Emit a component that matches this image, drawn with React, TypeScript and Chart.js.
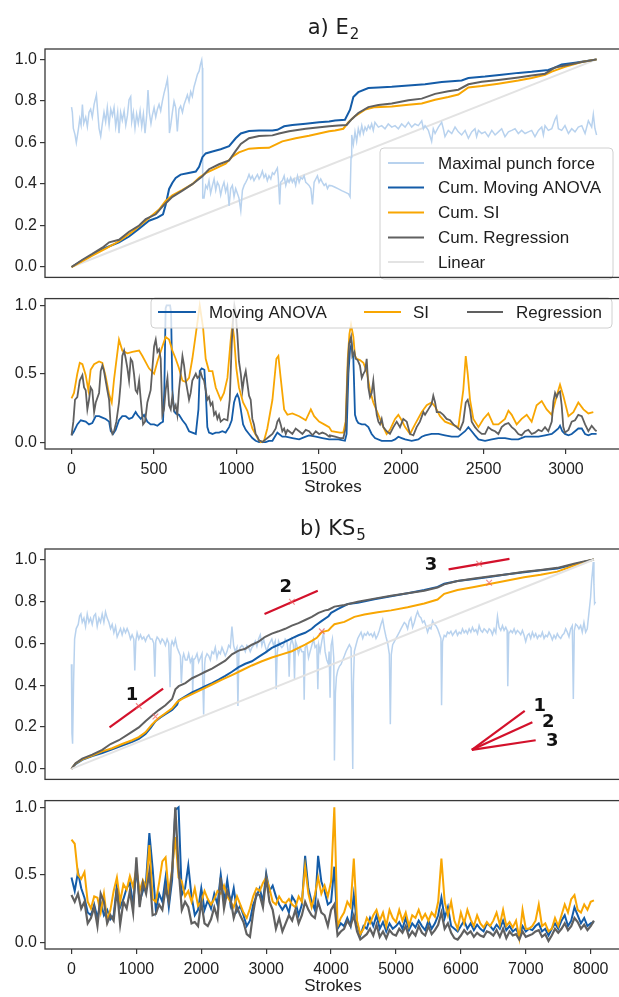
import React, { useEffect, useRef } from "react";
import { Chart, registerables } from "chart.js";

Chart.register(...registerables);

type Pt = [number, number];

// ================= shared ticks =================
const Y_TICKS_TOP = [0, 0.2, 0.4, 0.6, 0.8, 1.0];
const Y_TICKS_BOTTOM = [0, 0.5, 1.0];
const A_X_TICKS = [0, 500, 1000, 1500, 2000, 2500, 3000];
const B_X_TICKS = [0, 1000, 2000, 3000, 4000, 5000, 6000, 7000, 8000];
const A_X_RANGE = [-161, 3334];
const B_X_RANGE = [-408, 8467];

const TITLE_A = ["a) E", "2"];
const TITLE_B = ["b) KS", "5"];
const X_TITLE = "Strokes";
const A_TOP_LEGEND = ["Maximal punch force", "Cum. Moving ANOVA", "Cum. SI", "Cum. Regression", "Linear"];
const A_BOTTOM_LEGEND = ["Moving ANOVA", "SI", "Regression"];

// ================= panel a) top =================
const A_FORCE: Pt[] = [
  [0,0.77],[5,0.745],[11,0.668],[21,0.638],[29,0.599],[41,0.661],[50,0.714],[58,0.683],[66,0.783],[74,0.691],[86,0.722],[96,0.676],
  [106,0.745],[116,0.76],[126,0.722],[137,0.783],[151,0.829],[159,0.745],[167,0.668],[177,0.63],[187,0.691],[197,0.745],[207,0.699],
  [217,0.768],[228,0.683],[238,0.76],[248,0.729],[258,0.768],[268,0.676],[280,0.745],[288,0.645],[298,0.745],[308,0.706],[319,0.752],
  [329,0.683],[339,0.729],[349,0.806],[359,0.821],[365,0.699],[375,0.745],[385,0.668],[395,0.737],[405,0.691],[416,0.752],[426,0.676],
  [436,0.737],[446,0.645],[456,0.729],[464,0.852],[472,0.745],[482,0.691],[490,0.729],[501,0.768],[511,0.722],[521,0.76],[531,0.783],
  [541,0.752],[551,0.798],[561,0.836],[571,0.867],[582,0.905],[588,0.836],[594,0.645],[602,0.683],[612,0.745],[622,0.798],[632,0.768],
  [642,0.653],[652,0.76],[662,0.775],[673,0.745],[683,0.783],[693,0.806],[703,0.829],[713,0.798],[723,0.844],[733,0.821],[743,0.867],
  [754,0.898],[764,0.928],[774,0.943],[782,0.974],[790,0.997],[794,0.959],[796,0.332],[804,0.332],[814,0.393],[824,0.378],[834,0.416],
  [844,0.355],[855,0.393],[865,0.424],[875,0.37],[885,0.408],[895,0.393],[905,0.347],[915,0.385],[925,0.408],[935,0.362],[946,0.393],
  [956,0.294],[966,0.378],[976,0.393],[986,0.339],[996,0.378],[1006,0.355],[1016,0.332],[1027,0.271],[1037,0.37],[1047,0.393],[1057,0.408],
  [1067,0.424],[1077,0.446],[1087,0.424],[1097,0.439],[1107,0.416],[1117,0.431],[1128,0.446],[1138,0.424],[1148,0.439],[1158,0.462],
  [1168,0.431],[1178,0.446],[1188,0.416],[1198,0.439],[1209,0.424],[1219,0.454],[1229,0.446],[1239,0.462],[1249,0.477],[1255,0.424],
  [1263,0.301],[1269,0.408],[1279,0.416],[1290,0.439],[1300,0.393],[1310,0.424],[1320,0.408],[1330,0.431],[1340,0.408],[1350,0.424],
  [1360,0.393],[1371,0.439],[1381,0.408],[1391,0.431],[1401,0.424],[1411,0.439],[1421,0.408],[1431,0.401],[1441,0.393],[1452,0.378],
  [1462,0.301],[1472,0.408],[1482,0.424],[1492,0.439],[1502,0.408],[1512,0.424],[1522,0.408],[1533,0.393],[1543,0.401],[1553,0.378],
  [1563,0.393],[1579,0.391],[1599,0.384],[1619,0.376],[1639,0.368],[1659,0.361],[1680,0.353],[1690,0.338],[1696,0.528],[1700,0.636],
  [1710,0.59],[1720,0.651],[1730,0.605],[1740,0.666],[1750,0.636],[1761,0.681],[1771,0.643],[1781,0.674],[1791,0.658],[1801,0.681],
  [1811,0.666],[1821,0.689],[1831,0.658],[1841,0.697],[1862,0.674],[1882,0.681],[1902,0.666],[1922,0.689],[1943,0.674],[1963,0.681],
  [1983,0.666],[2003,0.689],[2024,0.674],[2044,0.697],[2064,0.674],[2084,0.689],[2104,0.681],[2125,0.704],[2135,0.666],[2145,0.681],
  [2165,0.658],[2185,0.605],[2195,0.666],[2206,0.643],[2226,0.674],[2246,0.697],[2256,0.666],[2266,0.628],[2286,0.658],[2307,0.643],
  [2327,0.674],[2347,0.651],[2367,0.636],[2388,0.658],[2408,0.62],[2428,0.651],[2448,0.666],[2458,0.628],[2469,0.658],[2489,0.643],
  [2509,0.651],[2529,0.628],[2550,0.658],[2570,0.636],[2590,0.651],[2610,0.666],[2630,0.628],[2651,0.651],[2671,0.658],[2691,0.666],
  [2711,0.643],[2731,0.658],[2752,0.643],[2772,0.651],[2792,0.658],[2812,0.628],[2833,0.658],[2853,0.674],[2863,0.636],[2873,0.681],
  [2893,0.658],[2914,0.666],[2934,0.712],[2944,0.727],[2954,0.666],[2974,0.658],[2994,0.681],[3015,0.643],[3035,0.666],[3055,0.651],
  [3075,0.674],[3096,0.681],[3116,0.643],[3136,0.704],[3156,0.674],[3166,0.735],[3176,0.666],[3186,0.636]
];
const A_CUM_ANOVA: Pt[] = [
  [0,0],[66,0.032],[126,0.058],[207,0.093],[288,0.119],[349,0.147],[410,0.185],[470,0.223],[521,0.238],[555,0.254],[571,0.299],
  [592,0.376],[612,0.406],[632,0.429],[662,0.445],[703,0.452],[754,0.46],[774,0.483],[794,0.529],[814,0.547],[855,0.556],[905,0.567],
  [956,0.582],[996,0.62],[1027,0.643],[1077,0.655],[1138,0.657],[1219,0.657],[1249,0.661],[1290,0.678],[1340,0.684],[1421,0.69],
  [1502,0.697],[1563,0.701],[1599,0.706],[1659,0.709],[1690,0.758],[1710,0.819],[1740,0.842],[1801,0.862],[1862,0.865],[1943,0.868],
  [2044,0.874],[2145,0.88],[2246,0.891],[2367,0.898],[2408,0.91],[2509,0.917],[2610,0.926],[2711,0.935],[2792,0.94],[2893,0.949],
  [2934,0.961],[2974,0.975],[3055,0.984],[3156,0.996],[3186,1.0]
];
const A_CUM_SI: Pt[] = [
  [0,0],[66,0.028],[126,0.055],[207,0.089],[288,0.124],[369,0.17],[450,0.223],[531,0.277],[571,0.318],[612,0.345],[673,0.371],
  [733,0.399],[774,0.43],[814,0.452],[875,0.475],[935,0.498],[976,0.532],[1016,0.552],[1077,0.57],[1138,0.573],[1198,0.574],
  [1219,0.582],[1279,0.605],[1360,0.62],[1441,0.632],[1563,0.654],[1599,0.658],[1649,0.666],[1680,0.697],[1720,0.727],[1781,0.758],
  [1841,0.77],[1943,0.773],[2044,0.781],[2125,0.788],[2206,0.806],[2286,0.819],[2347,0.831],[2408,0.865],[2489,0.872],[2590,0.883],
  [2711,0.898],[2792,0.91],[2873,0.926],[2914,0.941],[2994,0.964],[3096,0.987],[3186,1.0]
];
const A_CUM_REG: Pt[] = [
  [0,0],[66,0.035],[126,0.063],[187,0.093],[228,0.119],[288,0.131],[349,0.17],[410,0.2],[450,0.231],[511,0.254],[561,0.299],
  [612,0.338],[673,0.368],[733,0.399],[794,0.437],[834,0.471],[895,0.495],[956,0.513],[996,0.559],[1027,0.593],[1077,0.62],
  [1138,0.631],[1219,0.634],[1259,0.643],[1320,0.654],[1421,0.666],[1563,0.678],[1619,0.681],[1669,0.684],[1700,0.712],[1740,0.742],
  [1801,0.77],[1862,0.78],[1943,0.788],[2044,0.803],[2125,0.811],[2206,0.834],[2286,0.846],[2347,0.854],[2408,0.88],[2489,0.892],
  [2590,0.901],[2711,0.913],[2792,0.922],[2873,0.931],[2934,0.961],[2994,0.971],[3096,0.987],[3186,1.0]
];
const A_LINEAR: Pt[] = [[0,0],[3186,1]];

// ================= panel a) bottom =================
const A_IND_ANOVA: Pt[] = [
  [0,0.05],[15,0.08],[35,0.13],[56,0.16],[86,0.15],[106,0.13],[126,0.14],[147,0.19],[167,0.19],[187,0.18],[207,0.17],[228,0.15],
  [238,0.08],[252,0.06],[268,0.09],[288,0.16],[308,0.19],[329,0.19],[349,0.17],[369,0.18],[389,0.22],[399,0.2],[420,0.17],[440,0.2],
  [460,0.15],[480,0.13],[501,0.13],[521,0.12],[541,0.14],[555,0.15],[563,0.38],[571,0.98],[577,1.0],[598,1.0],[604,0.95],[612,0.38],
  [622,0.23],[632,0.21],[652,0.2],[673,0.16],[693,0.13],[713,0.08],[733,0.07],[754,0.06],[770,0.24],[778,0.52],[790,0.54],[806,0.53],
  [814,0.38],[824,0.11],[834,0.07],[855,0.06],[875,0.07],[895,0.07],[915,0.08],[935,0.07],[956,0.11],[972,0.16],[986,0.29],[996,0.33],
  [1006,0.35],[1016,0.32],[1027,0.24],[1041,0.13],[1057,0.09],[1077,0.06],[1097,0.03],[1117,0.01],[1138,0],[1158,0],[1178,0],
  [1198,0.01],[1219,0.01],[1239,0.05],[1249,0.07],[1259,0.06],[1279,0.04],[1300,0.04],[1340,0.03],[1381,0.02],[1421,0.04],[1441,0.05],
  [1482,0.04],[1522,0.03],[1563,0.02],[1578,0.02],[1619,0.02],[1659,0.01],[1669,0.06],[1680,0.5],[1690,0.68],[1700,0.72],[1710,0.61],
  [1720,0.2],[1730,0.16],[1740,0.14],[1761,0.13],[1781,0.13],[1801,0.11],[1821,0.06],[1841,0.03],[1882,0.01],[1922,0.01],[1943,0.01],
  [1963,0.02],[1983,0.04],[2003,0.03],[2024,0.02],[2064,0.01],[2104,0.02],[2125,0.04],[2145,0.05],[2185,0.06],[2226,0.06],[2266,0.05],
  [2307,0.04],[2347,0.04],[2388,0.08],[2408,0.11],[2428,0.08],[2448,0.05],[2469,0.02],[2509,0.01],[2550,0.02],[2590,0.03],[2630,0.03],
  [2671,0.02],[2711,0.02],[2752,0.04],[2792,0.04],[2833,0.04],[2873,0.05],[2914,0.06],[2934,0.08],[2954,0.1],[2964,0.12],[2978,0.08],
  [2994,0.06],[3015,0.05],[3035,0.06],[3055,0.08],[3075,0.1],[3096,0.1],[3116,0.06],[3136,0.05],[3156,0.06],[3186,0.06]
];
const A_IND_SI: Pt[] = [
  [0,0.32],[15,0.36],[35,0.5],[50,0.58],[66,0.57],[86,0.49],[102,0.38],[116,0.53],[137,0.57],[167,0.59],[187,0.58],[207,0.48],
  [228,0.35],[244,0.29],[258,0.46],[288,0.75],[308,0.67],[339,0.65],[369,0.66],[410,0.67],[430,0.63],[470,0.54],[501,0.5],[521,0.59],
  [551,0.7],[571,0.77],[592,0.75],[612,0.67],[632,0.61],[652,0.54],[673,0.45],[693,0.44],[713,0.47],[733,0.61],[754,0.79],[778,1.0],
  [798,0.84],[814,0.61],[834,0.52],[855,0.52],[875,0.4],[905,0.31],[925,0.36],[946,0.47],[966,0.75],[976,0.86],[986,0.77],[1000,0.54],
  [1016,0.4],[1041,0.29],[1067,0.23],[1097,0.1],[1128,0.03],[1148,0],[1168,0.01],[1188,0.1],[1219,0.31],[1243,0.61],[1255,0.63],
  [1269,0.47],[1290,0.24],[1310,0.2],[1340,0.21],[1381,0.19],[1421,0.16],[1452,0.24],[1472,0.19],[1502,0.15],[1533,0.13],[1563,0.11],
  [1578,0.08],[1629,0.07],[1649,0.07],[1663,0.15],[1676,0.61],[1686,0.79],[1696,0.86],[1710,0.77],[1720,0.63],[1730,0.61],[1750,0.6],
  [1771,0.58],[1791,0.52],[1811,0.38],[1831,0.29],[1862,0.2],[1892,0.11],[1912,0.06],[1932,0.09],[1963,0.17],[1983,0.2],[2003,0.16],
  [2024,0.11],[2054,0.06],[2084,0.13],[2125,0.22],[2155,0.27],[2185,0.29],[2206,0.26],[2236,0.19],[2266,0.15],[2307,0.13],[2347,0.11],
  [2377,0.38],[2392,0.63],[2404,0.5],[2418,0.31],[2438,0.17],[2469,0.11],[2499,0.17],[2529,0.21],[2559,0.13],[2590,0.13],[2630,0.17],
  [2651,0.23],[2671,0.2],[2701,0.13],[2731,0.17],[2762,0.2],[2792,0.15],[2822,0.27],[2853,0.3],[2883,0.24],[2914,0.2],[2944,0.34],
  [2964,0.42],[2984,0.34],[3015,0.19],[3045,0.22],[3075,0.29],[3106,0.24],[3136,0.21],[3166,0.22]
];
const A_IND_REG: Pt[] = [
  [0,0.05],[11,0.15],[21,0.31],[35,0.33],[50,0.45],[66,0.49],[76,0.4],[86,0.38],[96,0.24],[106,0.31],[116,0.4],[126,0.38],[137,0.22],
  [147,0.29],[167,0.36],[177,0.52],[187,0.56],[197,0.52],[207,0.45],[217,0.38],[228,0.31],[238,0.11],[248,0.06],[258,0.08],[272,0.15],
  [288,0.29],[298,0.43],[308,0.63],[319,0.67],[329,0.61],[339,0.54],[349,0.45],[359,0.61],[369,0.59],[379,0.5],[389,0.38],[399,0.36],
  [410,0.45],[420,0.31],[434,0.13],[446,0.15],[460,0.29],[480,0.38],[501,0.7],[511,0.75],[521,0.66],[531,0.68],[541,0.61],[551,0.2],
  [561,0.24],[571,0.38],[582,0.47],[592,0.27],[602,0.24],[612,0.34],[622,0.24],[632,0.27],[642,0.2],[652,0.38],[662,0.5],[673,0.63],
  [683,0.56],[693,0.45],[703,0.38],[713,0.31],[723,0.36],[733,0.45],[754,0.5],[764,0.47],[774,0.48],[784,0.51],[794,0.47],[804,0.45],
  [814,0.38],[824,0.31],[834,0.33],[844,0.27],[855,0.29],[865,0.2],[875,0.22],[885,0.17],[895,0.2],[905,0.15],[925,0.17],[946,0.16],
  [960,0.31],[972,0.72],[980,0.89],[988,1.0],[996,0.95],[1006,0.79],[1016,0.59],[1027,0.5],[1037,0.38],[1047,0.47],[1057,0.52],
  [1067,0.43],[1077,0.34],[1087,0.31],[1097,0.17],[1107,0.13],[1117,0.06],[1128,0.04],[1138,0.01],[1148,0.01],[1158,0],[1168,0.01],
  [1178,0.02],[1198,0.04],[1219,0.06],[1239,0.1],[1249,0.15],[1259,0.17],[1269,0.13],[1279,0.08],[1290,0.1],[1300,0.06],[1310,0.09],
  [1320,0.08],[1340,0.06],[1360,0.1],[1381,0.08],[1401,0.06],[1421,0.09],[1441,0.08],[1462,0.05],[1482,0.08],[1502,0.06],[1522,0.07],
  [1543,0.06],[1563,0.04],[1568,0.05],[1599,0.04],[1629,0.03],[1649,0.03],[1663,0.1],[1676,0.54],[1684,0.72],[1696,0.77],[1704,0.63],
  [1716,0.66],[1724,0.61],[1736,0.6],[1750,0.56],[1761,0.47],[1771,0.5],[1781,0.52],[1791,0.61],[1801,0.4],[1811,0.33],[1821,0.36],
  [1831,0.45],[1841,0.31],[1852,0.2],[1862,0.15],[1872,0.13],[1882,0.17],[1892,0.11],[1912,0.08],[1932,0.06],[1953,0.11],[1973,0.15],
  [1993,0.11],[2013,0.17],[2034,0.15],[2054,0.06],[2074,0.05],[2094,0.11],[2114,0.15],[2135,0.22],[2145,0.2],[2165,0.24],[2185,0.28],
  [2195,0.34],[2206,0.29],[2216,0.22],[2236,0.22],[2256,0.2],[2276,0.17],[2297,0.16],[2317,0.13],[2337,0.11],[2357,0.09],[2377,0.15],
  [2392,0.29],[2404,0.31],[2418,0.24],[2428,0.15],[2448,0.11],[2469,0.08],[2489,0.06],[2509,0.06],[2529,0.11],[2550,0.09],[2570,0.08],
  [2590,0.06],[2610,0.11],[2630,0.13],[2651,0.14],[2671,0.11],[2691,0.09],[2711,0.06],[2731,0.05],[2752,0.08],[2772,0.09],[2792,0.06],
  [2812,0.07],[2833,0.09],[2853,0.08],[2873,0.11],[2893,0.08],[2914,0.15],[2924,0.3],[2934,0.36],[2944,0.33],[2954,0.36],[2964,0.37],
  [2974,0.27],[2984,0.11],[2994,0.07],[3015,0.09],[3035,0.15],[3055,0.16],[3075,0.2],[3096,0.19],[3116,0.13],[3136,0.08],[3156,0.12],
  [3176,0.09],[3186,0.08]
];

// ================= panel b) top =================
const B_FORCE: Pt[] = [
  [0,0.5],[8,0.17],[18,0.12],[33,0.41],[49,0.62],[74,0.67],[105,0.69],[126,0.73],[146,0.74],[167,0.7],[193,0.72],[218,0.68],[244,0.74],
  [270,0.7],[295,0.72],[321,0.69],[347,0.73],[372,0.74],[398,0.68],[424,0.72],[449,0.7],[475,0.74],[501,0.7],[526,0.75],[552,0.72],
  [578,0.7],[604,0.67],[629,0.69],[655,0.65],[681,0.68],[706,0.63],[732,0.65],[758,0.67],[783,0.64],[809,0.67],[835,0.65],[860,0.67],
  [886,0.65],[912,0.62],[937,0.64],[963,0.62],[978,0.47],[994,0.61],[1014,0.65],[1040,0.62],[1066,0.64],[1091,0.62],[1117,0.63],
  [1143,0.61],[1168,0.63],[1194,0.64],[1220,0.62],[1245,0.62],[1271,0.6],[1287,0.44],[1302,0.61],[1323,0.63],[1348,0.62],[1374,0.6],
  [1400,0.62],[1425,0.61],[1451,0.59],[1477,0.62],[1502,0.6],[1523,0.39],[1538,0.59],[1554,0.61],[1580,0.59],[1605,0.62],[1631,0.58],
  [1656,0.56],[1682,0.54],[1697,0.41],[1718,0.53],[1733,0.55],[1759,0.52],[1785,0.52],[1810,0.55],[1836,0.51],[1862,0.53],[1872,0.36],
  [1887,0.52],[1913,0.53],[1939,0.55],[1964,0.51],[1990,0.53],[2016,0.55],[2041,0.26],[2057,0.5],[2067,0.53],[2093,0.55],[2119,0.54],
  [2144,0.52],[2170,0.56],[2196,0.55],[2221,0.58],[2247,0.53],[2273,0.56],[2298,0.55],[2324,0.58],[2350,0.56],[2375,0.54],[2401,0.56],
  [2427,0.59],[2452,0.58],[2478,0.68],[2504,0.59],[2529,0.56],[2555,0.58],[2570,0.3],[2586,0.56],[2606,0.58],[2632,0.59],[2658,0.58],
  [2684,0.56],[2709,0.59],[2735,0.58],[2761,0.56],[2786,0.58],[2812,0.59],[2838,0.61],[2863,0.585],[2889,0.62],[2915,0.64],[2940,0.59],
  [2966,0.62],[2992,0.585],[3017,0.56],[3043,0.59],[3094,0.62],[3120,0.59],[3146,0.61],[3161,0.38],[3176,0.55],[3197,0.61],[3223,0.59],
  [3248,0.58],[3274,0.59],[3300,0.62],[3325,0.61],[3351,0.55],[3361,0.44],[3377,0.59],[3402,0.62],[3428,0.59],[3444,0.43],[3459,0.61],
  [3480,0.59],[3505,0.55],[3531,0.58],[3557,0.56],[3582,0.56],[3593,0.33],[3608,0.58],[3634,0.59],[3660,0.53],[3685,0.56],[3711,0.59],
  [3737,0.62],[3762,0.58],[3788,0.59],[3804,0.38],[3819,0.59],[3839,0.56],[3865,0.61],[3891,0.65],[3916,0.56],[3942,0.52],[3968,0.5],
  [3978,0.56],[3993,0.34],[4009,0.59],[4029,0.62],[4050,0.53],[4060,0.04],[4075,0.36],[4091,0.44],[4111,0.47],[4137,0.49],[4163,0.5],
  [4188,0.52],[4214,0.54],[4240,0.562],[4266,0.578],[4291,0.593],[4317,0.578],[4332,0.26],[4343,0],[4353,0.41],[4368,0.562],[4394,0.593],
  [4420,0.623],[4445,0.638],[4471,0.653],[4497,0.623],[4522,0.646],[4548,0.638],[4574,0.653],[4599,0.638],[4625,0.646],[4651,0.631],
  [4676,0.65],[4702,0.623],[4728,0.638],[4753,0.661],[4779,0.691],[4805,0.714],[4830,0.669],[4856,0.631],[4882,0.6],[4908,0.547],
  [4923,0.213],[4938,0.547],[4959,0.593],[4985,0.608],[5010,0.623],[5036,0.638],[5062,0.653],[5087,0.669],[5113,0.684],[5139,0.699],
  [5164,0.691],[5190,0.669],[5216,0.707],[5241,0.722],[5267,0.676],[5293,0.699],[5318,0.729],[5344,0.752],[5370,0.729],[5395,0.722],
  [5421,0.699],[5447,0.707],[5472,0.684],[5498,0.653],[5524,0.676],[5550,0.669],[5575,0.707],[5601,0.691],[5627,0.684],[5652,0.669],
  [5678,0.646],[5704,0.623],[5714,0.304],[5729,0.608],[5755,0.638],[5781,0.631],[5806,0.653],[5832,0.646],[5858,0.657],[5883,0.638],
  [5909,0.65],[5935,0.661],[5960,0.638],[5986,0.653],[6012,0.646],[6037,0.669],[6063,0.65],[6089,0.661],[6114,0.646],[6140,0.669],
  [6166,0.653],[6191,0.676],[6217,0.657],[6243,0.665],[6269,0.646],[6294,0.684],[6320,0.661],[6346,0.653],[6371,0.669],[6397,0.661],
  [6423,0.65],[6448,0.669],[6474,0.661],[6500,0.641],[6525,0.669],[6551,0.65],[6577,0.729],[6602,0.676],[6628,0.661],[6654,0.684],
  [6679,0.661],[6705,0.676],[6726,0.661],[6736,0.395],[6751,0.646],[6782,0.661],[6808,0.65],[6834,0.669],[6859,0.646],[6885,0.661],
  [6911,0.653],[6936,0.641],[6962,0.661],[6988,0.638],[7013,0.608],[7039,0.638],[7065,0.646],[7090,0.623],[7116,0.653],[7142,0.631],
  [7167,0.646],[7193,0.623],[7219,0.638],[7244,0.631],[7270,0.653],[7296,0.623],[7321,0.638],[7347,0.631],[7373,0.653],[7398,0.638],
  [7424,0.616],[7450,0.638],[7476,0.623],[7501,0.646],[7527,0.631],[7553,0.623],[7578,0.638],[7604,0.646],[7630,0.669],[7655,0.653],
  [7681,0.631],[7707,0.669],[7732,0.684],[7748,0.334],[7763,0.661],[7784,0.691],[7809,0.684],[7835,0.669],[7861,0.684],[7886,0.653],
  [7912,0.699],[7938,0.653],[7963,0.669],[7989,0.745],[8015,0.821],[8030,0.897],[8046,0.95],[8056,0.988],[8066,0.881],[8076,0.79],
  [8092,0.798]
];
const B_CUM_ANOVA: Pt[] = [
  [0,0],[64,0.023],[167,0.043],[321,0.061],[475,0.076],[629,0.094],[783,0.111],[937,0.129],[1040,0.144],[1143,0.167],[1220,0.195],
  [1297,0.228],[1374,0.246],[1451,0.261],[1554,0.281],[1631,0.307],[1656,0.327],[1759,0.347],[1862,0.365],[1964,0.38],[2067,0.395],
  [2170,0.41],[2273,0.426],[2375,0.444],[2478,0.464],[2581,0.486],[2684,0.502],[2786,0.514],[2889,0.535],[2992,0.555],[3094,0.578],
  [3197,0.593],[3300,0.608],[3402,0.623],[3505,0.638],[3608,0.65],[3711,0.669],[3762,0.684],[3865,0.707],[3968,0.729],[4009,0.745],
  [4111,0.763],[4266,0.787],[4420,0.793],[4676,0.81],[4933,0.824],[5190,0.839],[5447,0.854],[5652,0.869],[5755,0.884],[5960,0.897],
  [6217,0.907],[6474,0.918],[6731,0.929],[6988,0.939],[7244,0.948],[7501,0.957],[7758,0.976],[7912,0.988],[8066,1.0]
];
const B_CUM_SI: Pt[] = [
  [0,0],[64,0.026],[167,0.046],[321,0.064],[475,0.084],[629,0.099],[783,0.119],[937,0.137],[1040,0.152],[1143,0.175],[1245,0.213],
  [1348,0.243],[1451,0.266],[1554,0.289],[1631,0.319],[1708,0.334],[1862,0.357],[2016,0.38],[2170,0.403],[2324,0.426],[2478,0.448],
  [2632,0.471],[2786,0.494],[2940,0.514],[3094,0.532],[3248,0.547],[3402,0.562],[3505,0.578],[3608,0.593],[3711,0.611],[3788,0.626],
  [3865,0.653],[3968,0.661],[4009,0.676],[4060,0.691],[4214,0.702],[4368,0.726],[4522,0.737],[4728,0.748],[4933,0.757],[5190,0.772],
  [5447,0.79],[5652,0.809],[5755,0.836],[5960,0.854],[6217,0.869],[6474,0.884],[6731,0.9],[6988,0.915],[7244,0.927],[7501,0.942],
  [7707,0.965],[7912,0.988],[8066,1.0]
];
const B_CUM_REG: Pt[] = [
  [0,0],[64,0.027],[167,0.049],[321,0.068],[475,0.091],[604,0.119],[732,0.137],[886,0.167],[1040,0.198],[1143,0.228],[1245,0.255],
  [1348,0.281],[1451,0.304],[1554,0.334],[1605,0.38],[1656,0.395],[1759,0.41],[1862,0.433],[1964,0.448],[2067,0.464],[2170,0.479],
  [2273,0.498],[2375,0.517],[2478,0.547],[2581,0.565],[2684,0.574],[2786,0.593],[2889,0.608],[2992,0.631],[3094,0.646],[3197,0.657],
  [3300,0.669],[3402,0.684],[3505,0.696],[3608,0.711],[3711,0.726],[3814,0.745],[3916,0.757],[3968,0.76],[4060,0.775],[4214,0.783],
  [4420,0.798],[4676,0.813],[4933,0.827],[5190,0.839],[5447,0.851],[5652,0.866],[5755,0.881],[5960,0.897],[6217,0.909],[6474,0.92],
  [6731,0.93],[6988,0.941],[7244,0.95],[7501,0.96],[7758,0.98],[7912,0.991],[8066,1.0]
];
const B_LINEAR: Pt[] = [[0,0],[8066,1]];

// red tangent annotations (data units)
const B_TANGENTS: Pt[][] = [
  [[588,0.198],[1415,0.383]],
  [[2981,0.74],[3803,0.851]],
  [[5822,0.953],[6762,1.003]]
];
const B_TANGENT_LABELS: [string, number, number][] = [["1",937,0.35],["2",3310,0.869],["3",5550,0.97]];
const B_FAN_ORIGIN: Pt = [6181,0.091];
const B_FAN_ENDS: Pt[] = [[6998,0.277],[7116,0.223],[7167,0.137]];
const B_FAN_LABELS: [string, number, number][] = [["1",7229,0.301],["2",7363,0.223],["3",7424,0.132]];
const B_MARKS: Pt[] = [[1040,0.3],[1297,0.25],[3403,0.798],[3865,0.657],[6294,0.98],[6448,0.889]];

// ================= panel b) bottom (sampled every 50 strokes) =================
const B_STEP = 50;
const B_IND_ANOVA = [
  0.48,0.38,0.52,0.40,0.33,0.22,0.20,0.28,0.18,0.30,
  0.20,0.24,0.17,0.20,0.42,0.26,0.32,0.40,0.44,0.28,
  0.55,0.30,0.38,0.46,0.81,0.55,0.24,0.36,0.30,0.48,
  0.26,0.46,0.98,1.0,0.35,0.40,0.57,0.34,0.20,0.24,
  0.40,0.24,0.31,0.25,0.36,0.28,0.50,0.30,0.46,0.28,
  0.40,0.23,0.27,0.20,0.12,0.16,0.28,0.34,0.40,0.30,
  0.51,0.38,0.42,0.34,0.28,0.24,0.28,0.22,0.34,0.30,
  0.20,0.28,0.64,0.40,0.30,0.24,0.64,0.45,0.38,0.28,
  0.30,0.56,0.10,0.14,0.12,0.18,0.12,0.35,0.14,0.05,
  0.12,0.10,0.18,0.12,0.20,0.10,0.15,0.08,0.14,0.10,
  0.12,0.15,0.10,0.18,0.09,0.14,0.11,0.16,0.12,0.09,
  0.16,0.10,0.14,0.20,0.33,0.18,0.26,0.12,0.10,0.08,
  0.12,0.16,0.10,0.14,0.09,0.13,0.10,0.08,0.14,0.12,
  0.09,0.13,0.10,0.16,0.09,0.12,0.08,0.10,0.05,0.12,
  0.08,0.10,0.09,0.12,0.14,0.08,0.10,0.05,0.10,0.14,
  0.10,0.16,0.20,0.12,0.16,0.26,0.20,0.14,0.18,0.12,
  0.14,0.15
];
const B_IND_SI = [
  0.76,0.73,0.50,0.47,0.52,0.30,0.25,0.34,0.33,0.22,
  0.36,0.16,0.24,0.38,0.48,0.30,0.43,0.39,0.49,0.41,
  0.55,0.38,0.46,0.40,0.72,0.32,0.30,0.44,0.60,0.63,
  0.36,0.54,0.78,0.48,0.45,0.34,0.38,0.30,0.40,0.27,
  0.30,0.38,0.32,0.28,0.32,0.38,0.36,0.42,0.34,0.30,
  0.26,0.34,0.28,0.22,0.18,0.25,0.34,0.40,0.38,0.44,
  0.48,0.40,0.30,0.28,0.34,0.30,0.29,0.32,0.28,0.26,
  0.34,0.30,0.56,0.36,0.26,0.35,0.48,0.36,0.42,0.34,
  0.45,1.0,0.12,0.18,0.22,0.30,0.26,0.62,0.16,0.06,
  0.10,0.18,0.14,0.20,0.24,0.16,0.22,0.12,0.24,0.18,
  0.15,0.24,0.16,0.22,0.12,0.20,0.18,0.24,0.17,0.21,
  0.16,0.22,0.19,0.30,0.62,0.30,0.20,0.30,0.16,0.10,
  0.22,0.14,0.24,0.17,0.12,0.20,0.14,0.11,0.15,0.12,
  0.16,0.22,0.13,0.24,0.12,0.15,0.11,0.16,0.03,0.24,
  0.10,0.10,0.12,0.16,0.28,0.12,0.14,0.08,0.10,0.18,
  0.12,0.20,0.28,0.22,0.32,0.35,0.24,0.22,0.28,0.24,
  0.30,0.31
];
const B_IND_REG = [
  0.35,0.30,0.36,0.25,0.30,0.14,0.18,0.26,0.12,0.36,
  0.30,0.14,0.20,0.16,0.40,0.13,0.30,0.25,0.38,0.22,
  0.63,0.26,0.44,0.36,0.52,0.20,0.21,0.28,0.24,0.40,
  0.30,0.52,1.0,0.55,0.24,0.30,0.26,0.14,0.15,0.12,
  0.30,0.14,0.12,0.17,0.26,0.18,0.48,0.25,0.38,0.32,
  0.18,0.26,0.20,0.15,0.06,0.04,0.22,0.36,0.35,0.26,
  0.48,0.30,0.24,0.10,0.18,0.08,0.14,0.20,0.16,0.24,
  0.14,0.20,0.30,0.24,0.20,0.18,0.30,0.22,0.20,0.12,
  0.24,0.28,0.05,0.08,0.10,0.16,0.12,0.20,0.08,0.02,
  0.04,0.06,0.10,0.05,0.13,0.04,0.08,0.03,0.09,0.06,
  0.05,0.10,0.07,0.12,0.04,0.08,0.05,0.12,0.07,0.05,
  0.12,0.06,0.09,0.13,0.22,0.10,0.14,0.07,0.03,0.02,
  0.05,0.09,0.06,0.08,0.04,0.07,0.05,0.04,0.08,0.07,
  0.05,0.09,0.04,0.10,0.03,0.08,0.05,0.06,0.02,0.08,
  0.04,0.05,0.06,0.08,0.09,0.04,0.06,0.01,0.05,0.10,
  0.07,0.10,0.14,0.09,0.12,0.18,0.15,0.10,0.13,0.09,
  0.12,0.16
];

// ================= styles =================
const FONT = "'Liberation Sans', Arial, Helvetica, sans-serif";
const TITLE_FONT = "'DejaVu Sans', sans-serif";
const COL = {
  anova: "#145ca8",
  si: "#f8a602",
  reg: "#606060",
  force: "#b8d2ee",
  linear: "#e3e3e3",
  red: "#d3112b",
  frame: "#383838",
  text: "#1e1e1e",
};

const pts = (a: Pt[]) => a.map(([x, y]) => ({ x, y }));
const grid = (a: number[], step: number) => a.map((y, i) => ({ x: i * step, y }));

function ds(label: string, data: any[], color: string, width: number, extra: any = {}) {
  return { label, data, borderColor: color, backgroundColor: color, borderWidth: width, pointRadius: 0, tension: 0, fill: false, ...extra };
}
function ordered(list: any[]) {
  // first item drawn first (bottom)
  return list.map((d, i) => ({ ...d, order: list.length - i }));
}

const framePlugin = {
  id: "frame",
  afterDraw(chart: any) {
    const { ctx, chartArea: a } = chart;
    ctx.save();
    ctx.strokeStyle = COL.frame;
    ctx.lineWidth = 1.3;
    ctx.strokeRect(a.left, a.top, a.right - a.left, a.bottom - a.top);
    ctx.restore();
  },
};

function titlePlugin(parts: string[], baseline: number) {
  return {
    id: "figTitle",
    afterDraw(chart: any) {
      const { ctx, chartArea: a } = chart;
      const cx = (a.left + a.right) / 2;
      ctx.save();
      ctx.fillStyle = COL.text;
      const f1 = `21px ${TITLE_FONT}`;
      const f2 = `15px ${TITLE_FONT}`;
      ctx.font = f1;
      const w1 = ctx.measureText(parts[0]).width;
      ctx.font = f2;
      const w2 = ctx.measureText(parts[1]).width;
      const x0 = cx - (w1 + w2) / 2;
      ctx.textAlign = "left";
      ctx.textBaseline = "alphabetic";
      ctx.font = f1;
      ctx.fillText(parts[0], x0, baseline);
      ctx.font = f2;
      ctx.fillText(parts[1], x0 + w1 + 1, baseline + 5);
      ctx.restore();
    },
  };
}

function roundRect(ctx: any, x: number, y: number, w: number, h: number, r: number) {
  ctx.beginPath();
  ctx.moveTo(x + r, y);
  ctx.lineTo(x + w - r, y);
  ctx.quadraticCurveTo(x + w, y, x + w, y + r);
  ctx.lineTo(x + w, y + h - r);
  ctx.quadraticCurveTo(x + w, y + h, x + w - r, y + h);
  ctx.lineTo(x + r, y + h);
  ctx.quadraticCurveTo(x, y + h, x, y + h - r);
  ctx.lineTo(x, y + r);
  ctx.quadraticCurveTo(x, y, x + r, y);
  ctx.closePath();
}

// legend: box [x,y,w,h], items with line start/end, text x, row y
function legendPlugin(box: number[], items: { label: string; color: string; x1: number; x2: number; tx: number; y: number }[]) {
  return {
    id: "customLegend",
    afterDatasetsDraw(chart: any) {
      const { ctx } = chart;
      ctx.save();
      roundRect(ctx, box[0], box[1], box[2], box[3], 4);
      ctx.fillStyle = "rgba(255,255,255,0.8)";
      ctx.fill();
      ctx.strokeStyle = "#d0d0d0";
      ctx.lineWidth = 1;
      ctx.stroke();
      ctx.font = `17px ${FONT}`;
      ctx.textBaseline = "middle";
      ctx.textAlign = "left";
      for (const it of items) {
        ctx.strokeStyle = it.color;
        ctx.lineWidth = 2;
        ctx.beginPath();
        ctx.moveTo(it.x1, it.y);
        ctx.lineTo(it.x2, it.y);
        ctx.stroke();
        ctx.fillStyle = COL.text;
        ctx.fillText(it.label, it.tx, it.y + 1);
      }
      ctx.restore();
    },
  };
}

const annotationPlugin = {
  id: "annot",
  afterDatasetsDraw(chart: any) {
    const { ctx, scales } = chart;
    const X = (v: number) => scales.x.getPixelForValue(v);
    const Y = (v: number) => scales.y.getPixelForValue(v);
    ctx.save();
    ctx.fillStyle = "#111";
    ctx.font = `bold 18px ${TITLE_FONT}`;
    ctx.textAlign = "center";
    ctx.textBaseline = "middle";
    for (const [t, x, y] of [...B_TANGENT_LABELS, ...B_FAN_LABELS]) ctx.fillText(t, X(x), Y(y));
    ctx.restore();
  },
};

function yAxis(ticks: number[]) {
  return {
    type: "linear",
    min: -0.05,
    max: 1.05,
    afterBuildTicks: (s: any) => { s.ticks = ticks.map((v) => ({ value: v })); },
    afterFit: (s: any) => { s.width = 45; },
    ticks: { font: { family: FONT, size: 16 }, color: COL.text, padding: 3, callback: (v: any) => Number(v).toFixed(1) },
    grid: { drawOnChartArea: false, drawTicks: true, tickLength: 5, color: COL.frame, lineWidth: 1.2 },
    border: { display: false },
  };
}

function xAxis(range: number[], ticks: number[] | null, height: number) {
  if (!ticks) return { type: "linear", min: range[0], max: range[1], display: false };
  return {
    type: "linear",
    position: "bottom",
    min: range[0],
    max: range[1],
    afterBuildTicks: (s: any) => { s.ticks = ticks.map((v) => ({ value: v })); },
    afterFit: (s: any) => { s.height = height; },
    ticks: { font: { family: FONT, size: 16 }, color: COL.text, padding: 6, maxRotation: 0, autoSkip: false, callback: (v: any) => String(v) },
    grid: { drawOnChartArea: false, drawTicks: true, tickLength: 5, color: COL.frame, lineWidth: 1.2 },
    border: { display: false },
    title: { display: true, text: X_TITLE, font: { family: FONT, size: 17 }, color: COL.text, padding: { top: 0, bottom: 0 } },
  };
}

function makeChart(canvas: HTMLCanvasElement, cfg: any) {
  return new Chart(canvas, {
    type: "line",
    data: { datasets: cfg.datasets },
    options: {
      animation: false,
      responsive: false,
      devicePixelRatio: 1,
      events: [],
      layout: { padding: cfg.padding },
      plugins: { legend: { display: false }, tooltip: { enabled: false }, title: { display: false } },
      scales: { x: cfg.x, y: cfg.y },
    },
    plugins: cfg.plugins,
  } as any);
}

const W = 625;
const PANELS = [
  { top: 0, height: 290 },
  { top: 286, height: 212 },
  { top: 500, height: 292 },
  { top: 788, height: 209 },
];

export default function App() {
  const r0 = useRef<HTMLCanvasElement>(null);
  const r1 = useRef<HTMLCanvasElement>(null);
  const r2 = useRef<HTMLCanvasElement>(null);
  const r3 = useRef<HTMLCanvasElement>(null);

  useEffect(() => {
    const charts: Chart[] = [];

    // a) top
    charts.push(makeChart(r0.current!, {
      padding: { top: 49, bottom: 2, left: 0, right: 4 },
      x: xAxis(A_X_RANGE, null, 0),
      y: yAxis(Y_TICKS_TOP),
      datasets: ordered([
        ds(A_TOP_LEGEND[4], pts(A_LINEAR), COL.linear, 2),
        ds(A_TOP_LEGEND[0], pts(A_FORCE), COL.force, 1.5),
        ds(A_TOP_LEGEND[1], pts(A_CUM_ANOVA), COL.anova, 2),
        ds(A_TOP_LEGEND[2], pts(A_CUM_SI), COL.si, 2),
        ds(A_TOP_LEGEND[3], pts(A_CUM_REG), COL.reg, 2),
      ]),
      plugins: [
        titlePlugin(TITLE_A, 34),
        legendPlugin([380, 148, 233, 131], [
          { label: A_TOP_LEGEND[0], color: COL.force, x1: 388, x2: 424, tx: 438, y: 163 },
          { label: A_TOP_LEGEND[1], color: COL.anova, x1: 388, x2: 424, tx: 438, y: 187.5 },
          { label: A_TOP_LEGEND[2], color: COL.si, x1: 388, x2: 424, tx: 438, y: 212.5 },
          { label: A_TOP_LEGEND[3], color: COL.reg, x1: 388, x2: 424, tx: 438, y: 237.5 },
          { label: A_TOP_LEGEND[4], color: COL.linear, x1: 388, x2: 424, tx: 438, y: 262 },
        ]),
        framePlugin,
      ],
    }));

    // a) bottom
    charts.push(makeChart(r1.current!, {
      padding: { top: 2, bottom: 0, left: 0, right: 4 },
      x: xAxis(A_X_RANGE, A_X_TICKS, 49),
      y: yAxis(Y_TICKS_BOTTOM),
      datasets: ordered([
        ds(A_BOTTOM_LEGEND[0], pts(A_IND_ANOVA), COL.anova, 1.8),
        ds(A_BOTTOM_LEGEND[1], pts(A_IND_SI), COL.si, 1.8),
        ds(A_BOTTOM_LEGEND[2], pts(A_IND_REG), COL.reg, 1.8),
      ]),
      plugins: [
        legendPlugin([151, 12, 461, 30], [
          { label: A_BOTTOM_LEGEND[0], color: COL.anova, x1: 158, x2: 196, tx: 209, y: 26 },
          { label: A_BOTTOM_LEGEND[1], color: COL.si, x1: 364, x2: 401, tx: 413, y: 26 },
          { label: A_BOTTOM_LEGEND[2], color: COL.reg, x1: 467, x2: 503, tx: 516, y: 26 },
        ]),
        framePlugin,
      ],
    }));

    // b) top
    const tangentSets = B_TANGENTS.map((seg, i) => ds("tangent" + (i + 1), pts(seg), COL.red, 2.2));
    const fanSets = B_FAN_ENDS.map((e, i) => ds("fan" + (i + 1), pts([B_FAN_ORIGIN, e]), COL.red, 2.2));
    charts.push(makeChart(r2.current!, {
      padding: { top: 49, bottom: 2, left: 0, right: 4 },
      x: xAxis(B_X_RANGE, null, 0),
      y: yAxis(Y_TICKS_TOP),
      datasets: ordered([
        ds("Maximal punch force", pts(B_FORCE), COL.force, 1.5),
        ds("Cum. Moving ANOVA", pts(B_CUM_ANOVA), COL.anova, 2),
        ds("Cum. SI", pts(B_CUM_SI), COL.si, 2),
        ds("Cum. Regression", pts(B_CUM_REG), COL.reg, 2),
        ds("Linear", pts(B_LINEAR), COL.linear, 2),
        ...tangentSets,
        ...fanSets,
        ds("marks", pts(B_MARKS), "rgba(240,90,90,0.7)", 1.1, { showLine: false, pointRadius: 4, pointStyle: "crossRot", pointBorderWidth: 1.1 }),
      ]),
      plugins: [titlePlugin(TITLE_B, 35), annotationPlugin, framePlugin],
    }));

    // b) bottom
    charts.push(makeChart(r3.current!, {
      padding: { top: 2, bottom: 0, left: 0, right: 4 },
      x: xAxis(B_X_RANGE, B_X_TICKS, 48),
      y: yAxis(Y_TICKS_BOTTOM),
      datasets: ordered([
        ds("Moving ANOVA", grid(B_IND_ANOVA, B_STEP), COL.anova, 2),
        ds("SI", grid(B_IND_SI, B_STEP), COL.si, 2),
        ds("Regression", grid(B_IND_REG, B_STEP), COL.reg, 2.2),
      ]),
      plugins: [framePlugin],
    }));

    return () => charts.forEach((c) => c.destroy());
  }, []);

  const refs = [r0, r1, r2, r3];
  return (
    <div style={{ position: "fixed", left: 0, top: 0, width: 619, height: 997, overflow: "hidden", background: "#fff" }}>
      {PANELS.map((p, i) => (
        <canvas
          key={i}
          ref={refs[i]}
          width={W}
          height={p.height}
          style={{ position: "absolute", left: 0, top: p.top, width: W, height: p.height }}
        />
      ))}
    </div>
  );
}
